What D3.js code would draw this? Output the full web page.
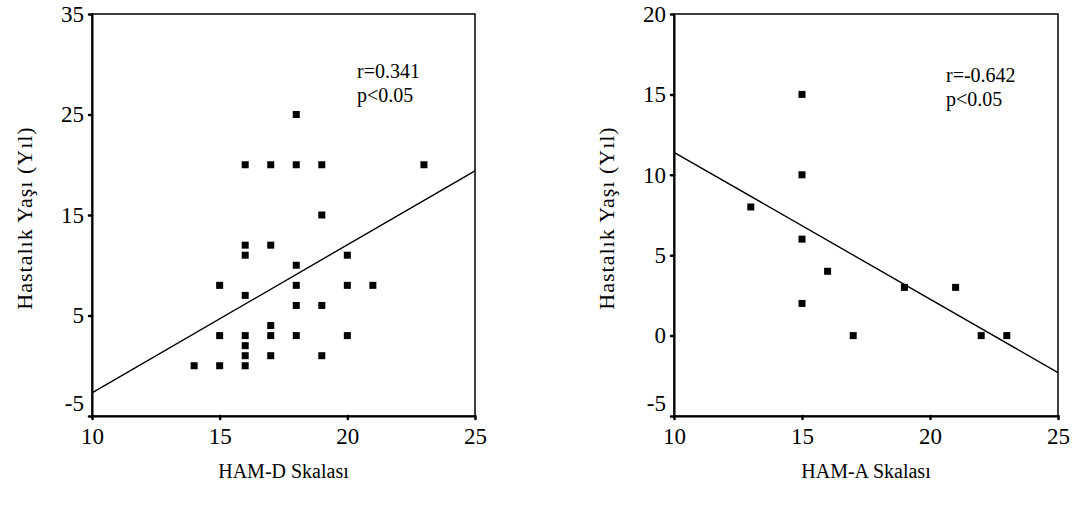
<!DOCTYPE html>
<html lang="tr">
<head>
    <meta charset="UTF-8">
    <title>HAM-D / HAM-A ve Hastalık Yaşı</title>
    <script src="https://d3js.org/d3.v7.min.js"></script>
    <style>
        body { margin: 0; background: #fff; }
        svg text { font-family: "Liberation Serif", "Times New Roman", serif; fill: #000; }
        .tick text { font-size: 23px; }
        .axis path.domain { stroke: #000; stroke-width: 2px; }
        .axis .tick line { stroke: #000; stroke-width: 2.5px; stroke-linecap: round; }
        .frame { fill: none; stroke: #000; stroke-width: 1.5px; }
        .fit { fill: none; stroke: #000; stroke-width: 1.4px; }
        .dot { fill: #000; }
        .axis-title { font-size: 20px; }
        .y-title { font-size: 22px; letter-spacing: 1px; }
        .note { font-size: 20px; }
    </style>
</head>
<body>
    <svg width="1073" height="518"></svg>

    <script>
        // Data - left panel (HAM-D)
        const hamD = [14, 15, 16, 16, 16, 16, 15, 17, 17, 17, 18, 19, 20, 18, 19, 16,
                      15, 18, 20, 21, 18, 16, 20, 16, 17, 19, 16, 17, 18, 19, 23, 18];
        const ageD = [0, 0, 0, 1, 2, 3, 3, 1, 3, 4, 3, 1, 3, 6, 6, 7,
                      8, 8, 8, 8, 10, 11, 11, 12, 12, 15, 20, 20, 20, 20, 20, 25];

        // Data - right panel (HAM-A)
        const hamA = [13, 15, 15, 16, 17, 19, 21, 22, 23, 15, 15];
        const ageA = [8, 6, 2, 4, 0, 3, 3, 0, 0, 15, 10];

        // regression lines, read at x = 10 and x = 25
        const fitX = [10, 25];
        const fitDY = [-2.7, 19.4];
        const fitAY = [11.4, -2.3];

        const xTicks = [10, 15, 20, 25];
        const leftYTicks = [-5, 5, 15, 25, 35];
        const rightYTicks = [-5, 0, 5, 10, 15, 20];

        const svg = d3.select("svg");
        const plain = d => String(d);   // keep the ASCII hyphen for "-5"

        function drawPanel(opt) {
            const x = d3.scaleLinear().domain([10, 25]).range([opt.left, opt.right]);
            const y = d3.scaleLinear().domain(opt.yDomain).range([416, 14]);

            const g = svg.append("g");

            // frame (top + right)
            g.append("rect")
                .attr("class", "frame")
                .attr("x", x(10)).attr("y", y(opt.yDomain[1]))
                .attr("width", x(25) - x(10))
                .attr("height", y(opt.yDomain[0]) - y(opt.yDomain[1]));

            // X axis
            g.append("g")
                .attr("class", "axis")
                .attr("transform", "translate(0," + y(opt.yDomain[0]) + ")")
                .call(d3.axisBottom(x).tickValues(xTicks).tickFormat(plain)
                    .tickSize(3).tickSizeOuter(0).tickPadding(9));

            // Y axis
            const ay = g.append("g")
                .attr("class", "axis")
                .attr("transform", "translate(" + x(10) + ",0)")
                .call(d3.axisLeft(y).tickValues(opt.yTicks).tickFormat(plain)
                    .tickSize(3).tickSizeOuter(0).tickPadding(5));

            // lowest label sits a bit higher, like the original
            ay.selectAll(".tick text").filter(d => d === -5).attr("dy", "-0.25em");

            // regression line
            g.append("path")
                .datum(fitX.map((v, i) => [v, opt.fitY[i]]))
                .attr("class", "fit")
                .attr("d", d3.line().x(d => x(d[0])).y(d => y(d[1])));

            // points
            g.selectAll(".dot")
                .data(opt.xs.map((v, i) => [v, opt.ys[i]]))
                .enter().append("rect")
                .attr("class", "dot")
                .attr("x", d => x(d[0]) - 3.5)
                .attr("y", d => y(d[1]) - 3.5)
                .attr("width", 7)
                .attr("height", 7);

            // r / p annotation
            g.append("text").attr("class", "note")
                .attr("x", opt.noteX).attr("y", opt.noteY)
                .text(opt.r);
            g.append("text").attr("class", "note")
                .attr("x", opt.noteX).attr("y", opt.noteY + 24)
                .text("p<0.05");

            // axis titles
            g.append("text").attr("class", "axis-title")
                .attr("x", (x(10) + x(25)) / 2)
                .attr("y", 478)
                .attr("text-anchor", "middle")
                .text(opt.xTitle);

            g.append("text").attr("class", "y-title")
                .attr("transform", "translate(" + opt.yTitleX + ",218) rotate(-90)")
                .attr("text-anchor", "middle")
                .text("Hastalık Yaşı (Yıl)");
        }

        drawPanel({
            left: 92, right: 475,
            yDomain: [-5, 35], yTicks: leftYTicks,
            xs: hamD, ys: ageD, fitY: fitDY,
            r: "r=0.341", noteX: 357, noteY: 78,
            xTitle: "HAM-D Skalası", yTitleX: 32
        });

        drawPanel({
            left: 674, right: 1058,
            yDomain: [-5, 20], yTicks: rightYTicks,
            xs: hamA, ys: ageA, fitY: fitAY,
            r: "r=-0.642", noteX: 946, noteY: 82,
            xTitle: "HAM-A Skalası", yTitleX: 614
        });
    </script>
</body>
</html>
